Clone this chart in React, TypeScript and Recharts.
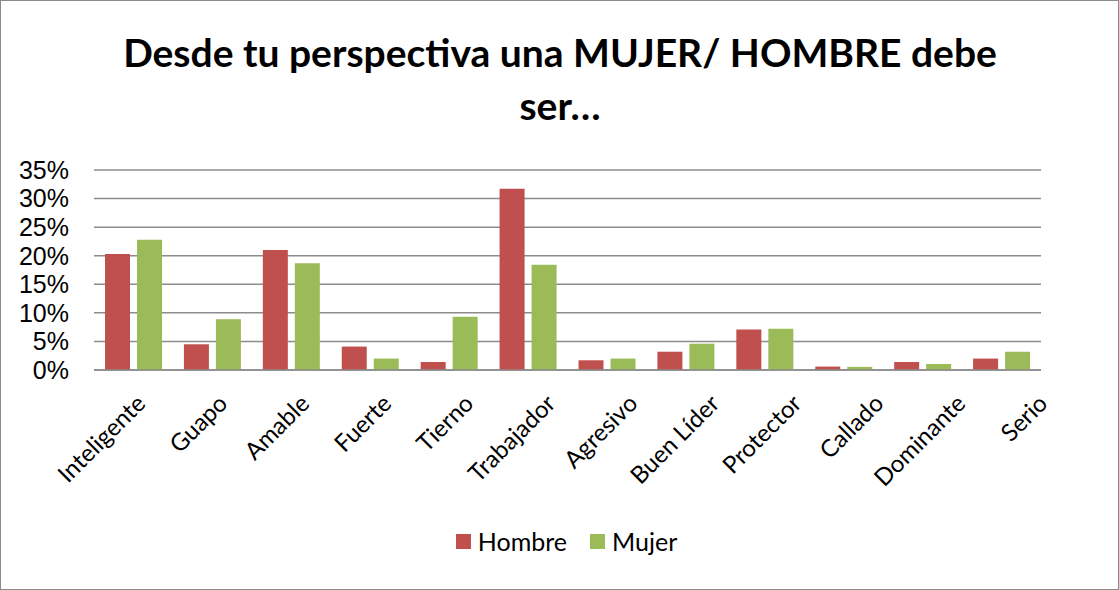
import React from 'react';
import { BarChart, Bar, XAxis, YAxis, CartesianGrid } from 'recharts';

const categories = ['Inteligente', 'Guapo', 'Amable', 'Fuerte', 'Tierno', 'Trabajador', 'Agresivo', 'Buen Líder', 'Protector', 'Callado', 'Dominante', 'Serio'];
const hombre = [20.3, 4.5, 21.0, 4.1, 1.4, 31.7, 1.7, 3.2, 7.1, 0.6, 1.4, 2.0];
const mujer = [22.8, 8.9, 18.7, 2.0, 9.3, 18.4, 2.0, 4.6, 7.2, 0.55, 1.05, 3.2];
const yTicks = [0, 5, 10, 15, 20, 25, 30, 35];
const titleLines = ['Desde tu perspectiva una MUJER/ HOMBRE debe', 'ser…'];
const seriesNames = ['Hombre', 'Mujer'];
const seriesColors = ['#C0504D', '#9BBB59'];

const data = categories.map((c, i) => ({ name: c, Hombre: hombre[i], Mujer: mujer[i] }));

const FONT = "Lato, 'Open Sans', sans-serif";

const CatTick = (props: any) => {
  const { x, y, payload } = props;
  return (
    <g transform={`translate(${x + 14},${y + 26})`}>
      <text textAnchor="end" transform="rotate(-45)" fontFamily={FONT} fontSize={24} fill="#000">
        {payload.value}
      </text>
    </g>
  );
};

export default function App() {
  return (
    <div style={{ position: 'absolute', left: 0, top: 0, width: 1119, height: 590, background: '#fff' }}>
      <div style={{ position: 'absolute', left: 0, top: 0, width: 1117, height: 588, border: '1px solid #8a8a8a' }} />
      <svg style={{ position: 'absolute', left: 0, top: 0 }} width={1119} height={150}>
        {titleLines.map((t, i) => (
          <text key={i} x={560} y={67 + i * 53} textAnchor="middle" fontFamily={FONT} fontWeight={700} fontSize={39} fill="#000">
            {t}
          </text>
        ))}
      </svg>
      <div style={{ position: 'absolute', left: 0, top: 0 }}>
        <BarChart width={1119} height={590} data={data} margin={{ top: 170, right: 78, bottom: 190, left: 0 }} barGap={7} barCategoryGap={11}>
          <CartesianGrid vertical={false} stroke="#8c8c8c" strokeWidth={1.5} />
          <XAxis dataKey="name" interval={0} tick={false} tickLine={false} axisLine={{ stroke: '#8c8c8c', strokeWidth: 1.5 }} height={1} />
          <XAxis
            xAxisId="lab"
            dataKey="name"
            interval={0}
            padding={{ left: -2, right: -35 }}
            tick={<CatTick />}
            tickLine={false}
            axisLine={false}
            height={29}
          />
          <YAxis
            domain={[0, 35]}
            ticks={yTicks}
            interval={0}
            width={94}
            tickFormatter={(v: number) => `${v}%`}
            axisLine={false}
            tickLine={false}
            tickMargin={19}
            tick={{ fill: '#000', fontSize: 25, fontFamily: "'Liberation Sans', Arial, sans-serif" }}
          />
          <Bar dataKey="Hombre" fill={seriesColors[0]} isAnimationActive={false} />
          <Bar dataKey="Mujer" fill={seriesColors[1]} isAnimationActive={false} />
        </BarChart>
      </div>
      <div style={{ position: 'absolute', top: 526, left: 14, width: 1105, display: 'flex', justifyContent: 'center', fontFamily: FONT, fontSize: 25, color: '#000' }}>
        {seriesNames.map((n, i) => (
          <div key={n} style={{ display: 'flex', alignItems: 'center', marginRight: i === 0 ? 23 : 0 }}>
            <span style={{ display: 'inline-block', width: 15, height: 15, background: seriesColors[i], marginRight: 7 }} />
            <span>{n}</span>
          </div>
        ))}
      </div>
    </div>
  );
}
